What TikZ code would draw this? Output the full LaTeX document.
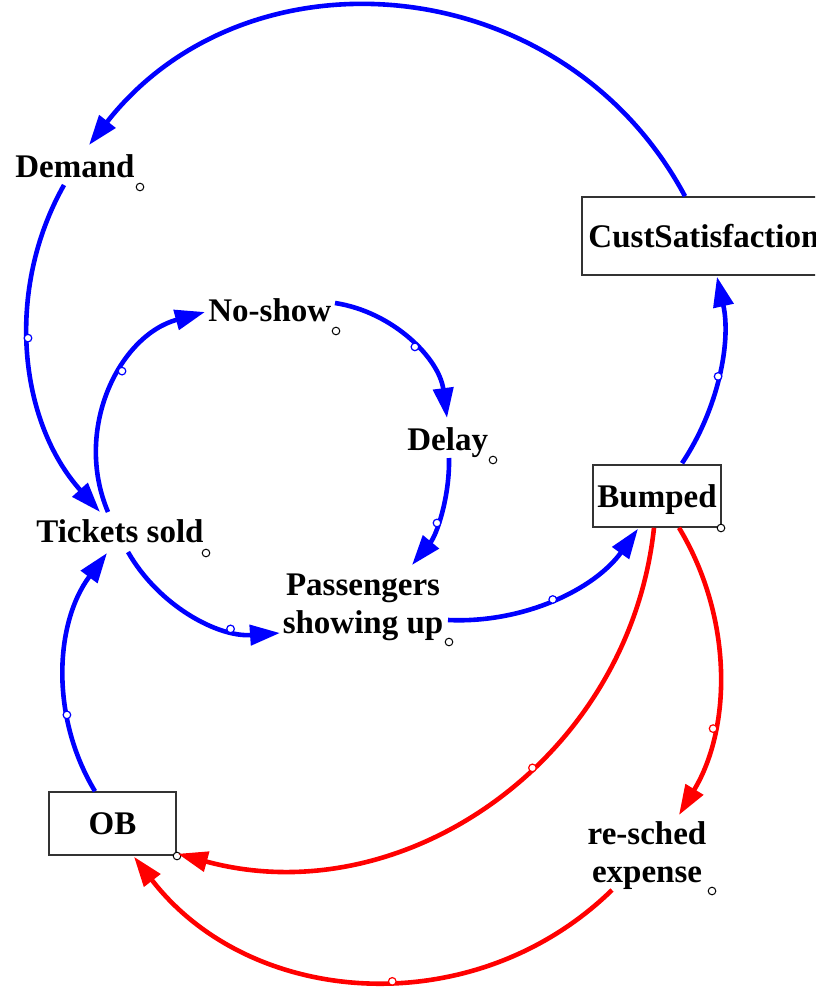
\documentclass[tikz,border=0pt]{standalone}
\usepackage{fontspec}
\setmainfont{Liberation Serif}
\usetikzlibrary{arrows.meta}
\begin{document}
\begin{tikzpicture}[x=0.5pt,y=-0.5pt,
  lbl/.style={font=\fontsize{16.5}{19}\selectfont\bfseries, inner sep=0pt, align=center},
  box/.style={draw=black!80, line width=0.75pt, font=\fontsize{16.5}{19}\selectfont\bfseries, inner sep=0pt, text depth=0pt, fill=white},
  blink/.style={draw=blue, line width=2.3pt, -{Triangle[length=15pt,width=10pt]}},
  rlink/.style={blink, draw=red},
  hb/.style={circle, draw=blue, fill=white, inner sep=0pt, minimum size=3.8pt, line width=0.6pt},
  hr/.style={hb, draw=red},
  dot/.style={circle, draw=black, fill=white, inner sep=0pt, minimum size=3.8pt, line width=0.5pt}]
\useasboundingbox (0,0) rectangle (815,990);
\clip (0,0) rectangle (815,990);

% labels
\node[lbl, anchor=base west] (demand) at (15,177) {Demand};
\node[lbl, anchor=base west] (nosh) at (208,321) {No-show};
\node[lbl, anchor=base west] (delay) at (407,450) {Delay};
\node[lbl, anchor=base west] (tickets) at (36,542) {Tickets sold};
\node[lbl, anchor=base] (pass) at (363,633) {Passengers\\showing up};
\node[lbl, anchor=base] (resched) at (647,882) {re-sched\\expense};

% boxes
\node[box, minimum width=122pt, minimum height=39pt] (cust) at (704,236) {CustSatisfaction};
\node[box, minimum width=64pt, minimum height=31pt] (bumped) at (657,496) {Bumped};
\node[box, minimum width=63.5pt, minimum height=31.5pt] (ob) at (112.5,823.5) {OB};

% small label markers
\node[dot] (m-demand) at (140,187) {};
\node[dot] (m-nosh) at (336,331) {};
\node[dot] (m-delay) at (493,460) {};
\node[dot] (m-tickets) at (206,553) {};
\node[dot] (m-pass) at (449,642) {};
\node[dot] (m-bumped) at (721,528) {};
\node[dot] (m-resched) at (712,891) {};
\node[dot] (m-ob) at (177,856) {};

% blue links
\draw[blink] ([shift={(-19,0)}]cust.north) .. controls +(-121.5,-227.8) and +(159.1,-203.2) .. ([shift={(74,-32)}]demand.base west);
\draw[blink] ([shift={(49,8)}]demand.base west) .. controls +(-59.5,105.5) and +(-81,-90) .. ([shift={(64,-30)}]tickets.base west) node[hb,pos=0.453]{};
\draw[blink] ([shift={(72,-30)}]tickets.base west) .. controls +(-34.9,-82.3) and +(-86.2,23.6) .. ([shift={(-3,-9)}]nosh.base west) node[hb,pos=0.589]{};
\draw[blink] ([shift={(127,-18)}]nosh.base west) .. controls +(58.8,9.1) and +(-7.6,-59.0) .. ([shift={(40,-32)}]delay.base west) node[hb,pos=0.541]{};
\draw[blink] ([shift={(42,8)}]delay.base west) .. controls +(0.8,38.9) and +(24.7,-30.1) .. ([shift={(49,-68)}]pass.base) node[hb,pos=0.576]{};
\draw[blink] ([shift={(92,10)}]tickets.base west) .. controls +(30.9,54.0) and +(-62.0,4.4) .. ([shift={(-83,0)}]pass.base) node[hb,pos=0.728]{};
\draw[blink] ([shift={(85,-13)}]pass.base) .. controls +(74.8,3.6) and +(-43.6,60.9) .. ([shift={(-19,1)}]bumped.south) node[hb,pos=0.49]{};
\draw[blink] ([shift={(25,-1)}]bumped.north) .. controls +(36.7,-54.9) and +(14.3,64.4) .. ([shift={(13,1)}]cust.south) node[hb,pos=0.485]{};
\draw[blink] ([shift={(-17.5,0)}]ob.north) .. controls +(-45.1,-74.6) and +(-52.3,69.8) .. ([shift={(71,11)}]tickets.base west) node[hb,pos=0.321]{};

% red links
\draw[rlink] ([shift={(-3,0)}]bumped.south) .. controls +(-25,232) and +(225.1,61.5) .. ([shift={(1,-2)}]ob.south east) node[hr,pos=0.417]{};
\draw[rlink] ([shift={(22,0)}]bumped.south) .. controls +(53.4,88.5) and +(53.4,-88.5) .. ([shift={(32,-67)}]resched.base) node[hr,pos=0.693]{};
\draw[rlink] ([shift={(-35,8)}]resched.base) .. controls +(-137.4,134.0) and +(117.1,152.0) .. ([shift={(21.5,1)}]ob.south) node[hr,pos=0.449]{};
\end{tikzpicture}
\end{document}
